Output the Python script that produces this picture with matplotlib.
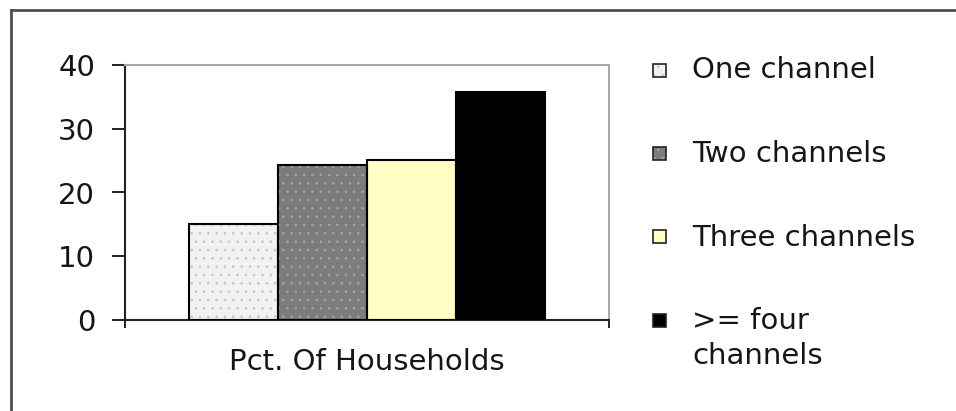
import numpy as np
import matplotlib
matplotlib.use("Agg")
import matplotlib.pyplot as plt
from matplotlib.patches import Rectangle
from matplotlib.lines import Line2D

# data
category = "Pct. Of Households"
series = ["One channel", "Two channels", "Three channels", ">= four\nchannels"]
values = [15.0, 24.3, 25.1, 35.7]
yticks = [0, 10, 20, 30, 40]

fills = ["#f2f2f2", "#7c7c7c", "#ffffc6", "#000000"]
dots = ["#c4c4c4", "#a6a6a6", None, None]

plt.rcParams["font.family"] = ["DejaVu Sans"]
plt.rcParams["hatch.linewidth"] = 0.6
txt_col = "#161616"
fs = 21

W, H = 956, 411
fig = plt.figure(figsize=(W / 100, H / 100), dpi=100)
ax = fig.add_axes([125 / W, 91 / H, 484 / W, 255 / H])

# grouped bars around a single category at x=0
n = len(values)
w = 0.184
xs = (np.arange(n) - (n - 1) / 2) * w
for x, v, fc, dc in zip(xs, values, fills, dots):
    if dc:
        ax.bar(x, v, w, color=fc, edgecolor=dc, hatch="..", linewidth=0, zorder=2)
    else:
        ax.bar(x, v, w, color=fc, linewidth=0, zorder=2)
    ax.bar(x, v, w, fill=False, edgecolor="black", linewidth=1.5, zorder=3)

ax.set_xlim(-0.5, 0.5)
ax.set_ylim(0, 40)
ax.set_yticks(yticks)
ax.set_yticklabels([str(t) for t in yticks], fontsize=fs, color=txt_col)
ax.tick_params(axis="y", direction="out", length=9.5, width=1.4, pad=12, color="#222222")
ax.set_xticks([-0.5, 0.5])
ax.set_xticklabels(["", ""])
ax.tick_params(axis="x", direction="out", length=6, width=1.4, color="#222222")

for s in ["left", "bottom"]:
    ax.spines[s].set_color("#222222")
    ax.spines[s].set_linewidth(1.5)
for s in ["top", "right"]:
    ax.spines[s].set_color("#a8a8a8")
    ax.spines[s].set_linewidth(1.5)

ax.set_xlabel(category, fontsize=fs, color=txt_col, va="center")
ax.xaxis.set_label_coords(0.5, -42 / 255)

# legend drawn by hand so the marker sits on the first text line
ly0, lstep = 70, 83.5
for i, (lab, fc, dc) in enumerate(zip(series, fills, dots)):
    yc = ly0 + i * lstep
    rect = (653 / W, 1 - (yc + 6.5) / H)
    if dc:
        fig.add_artist(Rectangle(rect, 13 / W, 13 / H, transform=fig.transFigure,
                                 facecolor=fc, edgecolor=dc, hatch="..", linewidth=0))
    else:
        fig.add_artist(Rectangle(rect, 13 / W, 13 / H, transform=fig.transFigure,
                                 facecolor=fc, linewidth=0))
    fig.add_artist(Rectangle(rect, 13 / W, 13 / H, transform=fig.transFigure,
                             fill=False, edgecolor="#222222", linewidth=1.2))
    fig.text(692 / W, 1 - (yc - 13.5) / H, lab, fontsize=fs, color=txt_col,
             va="top", ha="left", linespacing=1.3)

# outer frame (only left and top edges show in the reference)
fig.add_artist(Line2D([11 / W, 11 / W], [0, 1 - 10 / H], transform=fig.transFigure,
                      color="#505050", linewidth=2))
fig.add_artist(Line2D([11 / W, 1], [1 - 10 / H, 1 - 10 / H], transform=fig.transFigure,
                      color="#505050", linewidth=2))

fig.savefig("out.png", dpi=100)
